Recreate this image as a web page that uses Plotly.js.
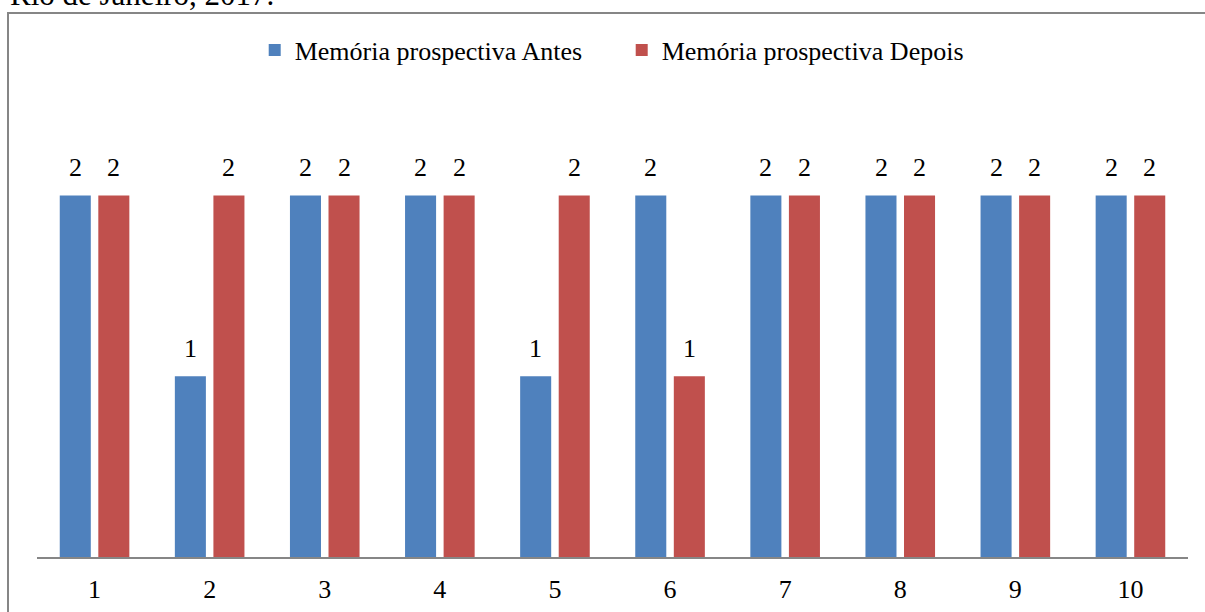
<!DOCTYPE html>
<html>
<head>
<meta charset="utf-8">
<script src="https://cdn.plot.ly/plotly-3.0.1.min.js"></script>
<style>html,body{margin:0;padding:0;background:#fff;}#chart{width:1205px;height:612px;}</style>
</head>
<body>
<div id="chart"></div>
<script>
var categories = ['1','2','3','4','5','6','7','8','9','10'];
var antes = [2,1,2,2,1,2,2,2,2,2];
var depois = [2,2,2,2,2,1,2,2,2,2];
var seriesNames = ['Memória prospectiva Antes','Memória prospectiva Depois'];
var titleText = 'Rio de Janeiro, 2017.';

var FONT = '"Liberation Serif", "Times New Roman", serif';
var FS = 26;
var W = 1205, H = 612, L = 37, R = 17, T = 105, B = 55;
var pw = W - L - R, ph = H - T - B;
function px(x){ return (x - L) / pw; }
function py(y){ return (H - B - y) / ph; }

var traces = [
  {type:'bar', x:categories, y:antes, name:seriesNames[0], marker:{color:'#4F81BD'}, hoverinfo:'none'},
  {type:'bar', x:categories, y:depois, name:seriesNames[1], marker:{color:'#C0504D'}, hoverinfo:'none'}
];

var annotations = [];
var shiftPx = 19.25;
[antes, depois].forEach(function(arr, si){
  arr.forEach(function(v, i){
    annotations.push({x:i, y:v, xref:'x', yref:'y', text:String(v), showarrow:false,
      xanchor:'center', yanchor:'bottom', xshift:(si===0?-shiftPx:shiftPx), yshift:11,
      font:{family:FONT, size:FS, color:'#000'}});
  });
});
annotations.push({x:px(8), y:py(14), xref:'paper', yref:'paper', text:titleText, showarrow:false,
  xanchor:'left', yanchor:'bottom', font:{family:FONT, size:31, color:'#000'}});

var layout = {
  width:W, height:H,
  margin:{l:L, r:R, t:T, b:B, pad:0},
  paper_bgcolor:'#fff', plot_bgcolor:'#fff',
  barmode:'group', bargap:0.33, bargroupgap:0.195,
  showlegend:true,
  legend:{orientation:'h', x:0.508, xanchor:'center', y:py(50), yanchor:'middle',
    font:{family:FONT, size:FS, color:'#000'}, traceorder:'normal', itemclick:false, itemwidth:30,
    entrywidth:322, entrywidthmode:'pixels'},
  xaxis:{type:'category', range:[-0.5, 9.5], showline:true, linecolor:'#868686', linewidth:1.5, showgrid:false, zeroline:false,
    ticks:'outside', ticklen:8, tickcolor:'rgba(0,0,0,0)', tickfont:{family:FONT, size:FS, color:'#000'}},
  yaxis:{range:[0,2.5], showline:false, showgrid:false, zeroline:false, showticklabels:false, ticks:''},
  shapes:[{type:'rect', xref:'paper', yref:'paper', x0:px(8), x1:px(1215), y0:py(620), y1:py(13),
    line:{color:'#868686', width:2}, fillcolor:'rgba(0,0,0,0)', layer:'below'}],
  annotations:annotations
};

Plotly.newPlot('chart', traces, layout, {displayModeBar:false, staticPlot:true});
</script>
</body>
</html>
